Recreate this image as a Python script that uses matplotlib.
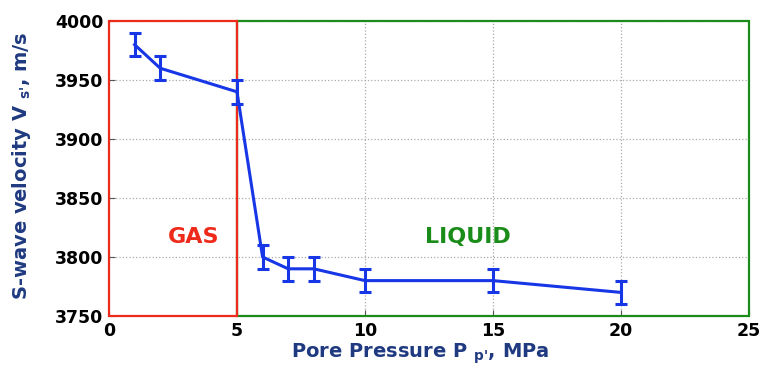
import numpy as np
import matplotlib
matplotlib.use("Agg")
from matplotlib import pyplot as plt
from matplotlib.patches import Rectangle

pressure = [1, 2, 5, 6, 7, 8, 10, 15, 20]
velocity = [3980, 3960, 3940, 3800, 3790, 3790, 3780, 3780, 3770]
errors = [10, 10, 10, 10, 10, 10, 10, 10, 10]
xticks = [0, 5, 10, 15, 20, 25]
yticks = [3750, 3800, 3850, 3900, 3950, 4000]

plt.rcParams['font.family'] = ['DejaVu Sans']
plt.rcParams['font.weight'] = 'bold'
plt.rcParams['mathtext.default'] = 'bf'

fig = plt.figure(figsize=(7.74, 3.7), dpi=100)
ax = fig.add_axes([0.1408, 0.1459, 0.8269, 0.7973])

ax.set_xlim(0, 25)
ax.set_ylim(3750, 4000)
ax.set_xticks(xticks)
ax.set_yticks(yticks)
ax.grid(True, color="#aaaaaa", linestyle=":", linewidth=0.9)
ax.tick_params(direction="in", length=4, color="#555555", labelsize=12.5, pad=4)
for lab in ax.get_xticklabels() + ax.get_yticklabels():
    lab.set_fontweight("bold")
for s in ax.spines.values():
    s.set_visible(False)

# phase regions
ax.add_patch(Rectangle((5, 3750), 20, 250, fill=False, edgecolor="#1a8c1a", linewidth=1.6, zorder=3, clip_on=False))
ax.add_patch(Rectangle((0, 3750), 5, 250, fill=False, edgecolor="#ee2a1a", linewidth=1.6, zorder=4, clip_on=False))

ax.errorbar(pressure, velocity, yerr=errors, color="#1736e6", linewidth=2.2,
            elinewidth=2.2, capsize=4.5, capthick=2.2, zorder=5)

ax.text(3.3, 3817, "GAS", color="#ee2a1a", fontsize=16, fontweight="bold", ha="center", va="center")
ax.text(14.0, 3817, "LIQUID", color="#1a8c1a", fontsize=16, fontweight="bold", ha="center", va="center")

ax.set_xlabel("Pore Pressure P $_{p\\text{'}}$, MPa", color="#1f3a80", fontsize=14, fontweight="bold")
ax.set_ylabel("S-wave velocity V $_{s\\text{'}}$, m/s", color="#1f3a80", fontsize=14, fontweight="bold")
ax.xaxis.set_label_coords(0.487, -0.085)
ax.yaxis.set_label_coords(-0.118, 0.51)

fig.savefig("out.png", dpi=100)
